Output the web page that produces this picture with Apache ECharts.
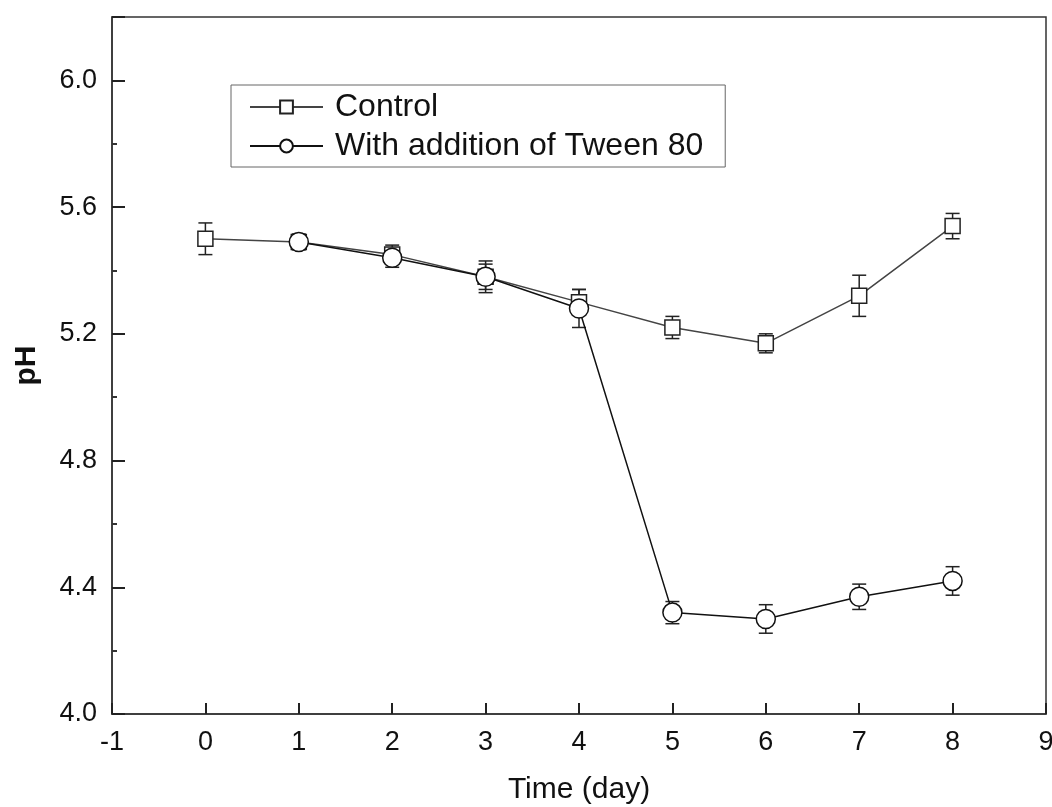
<!DOCTYPE html>
<html>
<head>
<meta charset="utf-8">
<script src="https://cdn.jsdelivr.net/npm/echarts@6/dist/echarts.min.js"></script>
<style>
  html, body { margin: 0; padding: 0; background: #fff; }
  #chart { width: 1052px; height: 807px; }
</style>
</head>
<body>
<div id="chart"></div>
<script>
var ctrlDays = [0, 1, 2, 3, 4, 5, 6, 7, 8];
var ctrlPH = [5.50, 5.49, 5.45, 5.38, 5.30, 5.22, 5.17, 5.32, 5.54];
var ctrlErr = [0.05, 0.025, 0.03, 0.04, 0.04, 0.035, 0.03, 0.065, 0.04];

var tweenDays = [1, 2, 3, 4, 5, 6, 7, 8];
var tweenPH = [5.49, 5.44, 5.38, 5.28, 4.32, 4.30, 4.37, 4.42];
var tweenErr = [0.02, 0.03, 0.05, 0.06, 0.035, 0.045, 0.04, 0.045];

(function () {
    var myChart = echarts.init(document.getElementById('chart'));

    function pairs(xs, ys) {
        var out = [];
        for (var i = 0; i < xs.length; i++) out.push([xs[i], ys[i]]);
        return out;
    }
    function errData(xs, ys, es) {
        var out = [];
        for (var i = 0; i < xs.length; i++) out.push([xs[i], ys[i] - es[i], ys[i] + es[i]]);
        return out;
    }
    // vertical bar with caps
    function renderErr(params, api) {
        var lo = api.coord([api.value(0), api.value(1)]);
        var hi = api.coord([api.value(0), api.value(2)]);
        var w = 7;
        var st = { stroke: '#222', lineWidth: 1.5 };
        return {
            type: 'group',
            children: [
                { type: 'line', shape: { x1: lo[0], y1: lo[1], x2: hi[0], y2: hi[1] }, style: st },
                { type: 'line', shape: { x1: lo[0] - w, y1: lo[1], x2: lo[0] + w, y2: lo[1] }, style: st },
                { type: 'line', shape: { x1: hi[0] - w, y1: hi[1], x2: hi[0] + w, y2: hi[1] }, style: st }
            ]
        };
    }

    var font = 'Liberation Sans, Arial';
    var axisFont = { fontFamily: font, fontSize: 27, color: '#111' };

    var option = {
        animation: false,
        backgroundColor: '#fff',
        grid: {
            left: 112, right: 6, top: 17, bottom: 93,
            outerBoundsMode: 'none',
            show: true, borderColor: '#333', borderWidth: 1.5
        },
        legend: {
            left: 231, top: 85,
            orient: 'vertical',
            itemWidth: 73, itemHeight: 16, itemGap: 7,
            padding: [6, 22, 5, 18],
            borderColor: '#666', borderWidth: 1,
            textStyle: { fontFamily: font, fontSize: 32, color: '#111', padding: [0, 0, 0, 7] },
            data: ['Control', 'With addition of Tween 80']
        },
        xAxis: {
            type: 'value',
            min: -1, max: 9, interval: 1,
            name: 'Time (day)',
            nameLocation: 'middle',
            nameGap: 61,
            nameTextStyle: { fontFamily: font, fontSize: 30, color: '#111' },
            axisLine: { onZero: false, lineStyle: { color: '#333', width: 1.5 } },
            axisTick: { inside: true, length: 11, lineStyle: { color: '#222', width: 2 } },
            axisLabel: Object.assign({ margin: 15 }, axisFont),
            splitLine: { show: false }
        },
        yAxis: {
            type: 'value',
            min: 4.0, max: 6.2, interval: 0.4,
            name: 'pH',
            nameLocation: 'middle',
            nameGap: 70,
            nameTextStyle: { fontFamily: font, fontSize: 30, fontWeight: 'bold', color: '#111' },
            axisLine: { onZero: false, lineStyle: { color: '#333', width: 1.5 } },
            axisTick: { inside: true, length: 13, lineStyle: { color: '#222', width: 2 } },
            minorTick: { show: true, splitNumber: 2, length: 5, lineStyle: { color: '#333', width: 2 } },
            axisLabel: Object.assign({
                margin: 15,
                showMaxLabel: false,
                formatter: function (v) { return v.toFixed(1); }
            }, axisFont),
            splitLine: { show: false }
        },
        series: [
            {
                type: 'custom',
                renderItem: renderErr,
                data: errData(ctrlDays, ctrlPH, ctrlErr),
                encode: { x: 0, y: [1, 2] },
                z: 1
            },
            {
                type: 'custom',
                renderItem: renderErr,
                data: errData(tweenDays, tweenPH, tweenErr),
                encode: { x: 0, y: [1, 2] },
                z: 1
            },
            {
                name: 'Control',
                type: 'line',
                data: pairs(ctrlDays, ctrlPH),
                symbol: 'rect',
                symbolSize: 15,
                color: '#555',
                lineStyle: { color: '#444', width: 1.5 },
                itemStyle: { color: '#fff', borderColor: '#222', borderWidth: 1.5 },
                z: 3
            },
            {
                name: 'With addition of Tween 80',
                type: 'line',
                data: pairs(tweenDays, tweenPH),
                symbol: 'circle',
                symbolSize: 19,
                color: '#111',
                lineStyle: { color: '#111', width: 1.5 },
                itemStyle: { color: '#fff', borderColor: '#111', borderWidth: 1.5 },
                z: 4
            }
        ]
    };

    myChart.setOption(option);
})();
</script>
</body>
</html>
